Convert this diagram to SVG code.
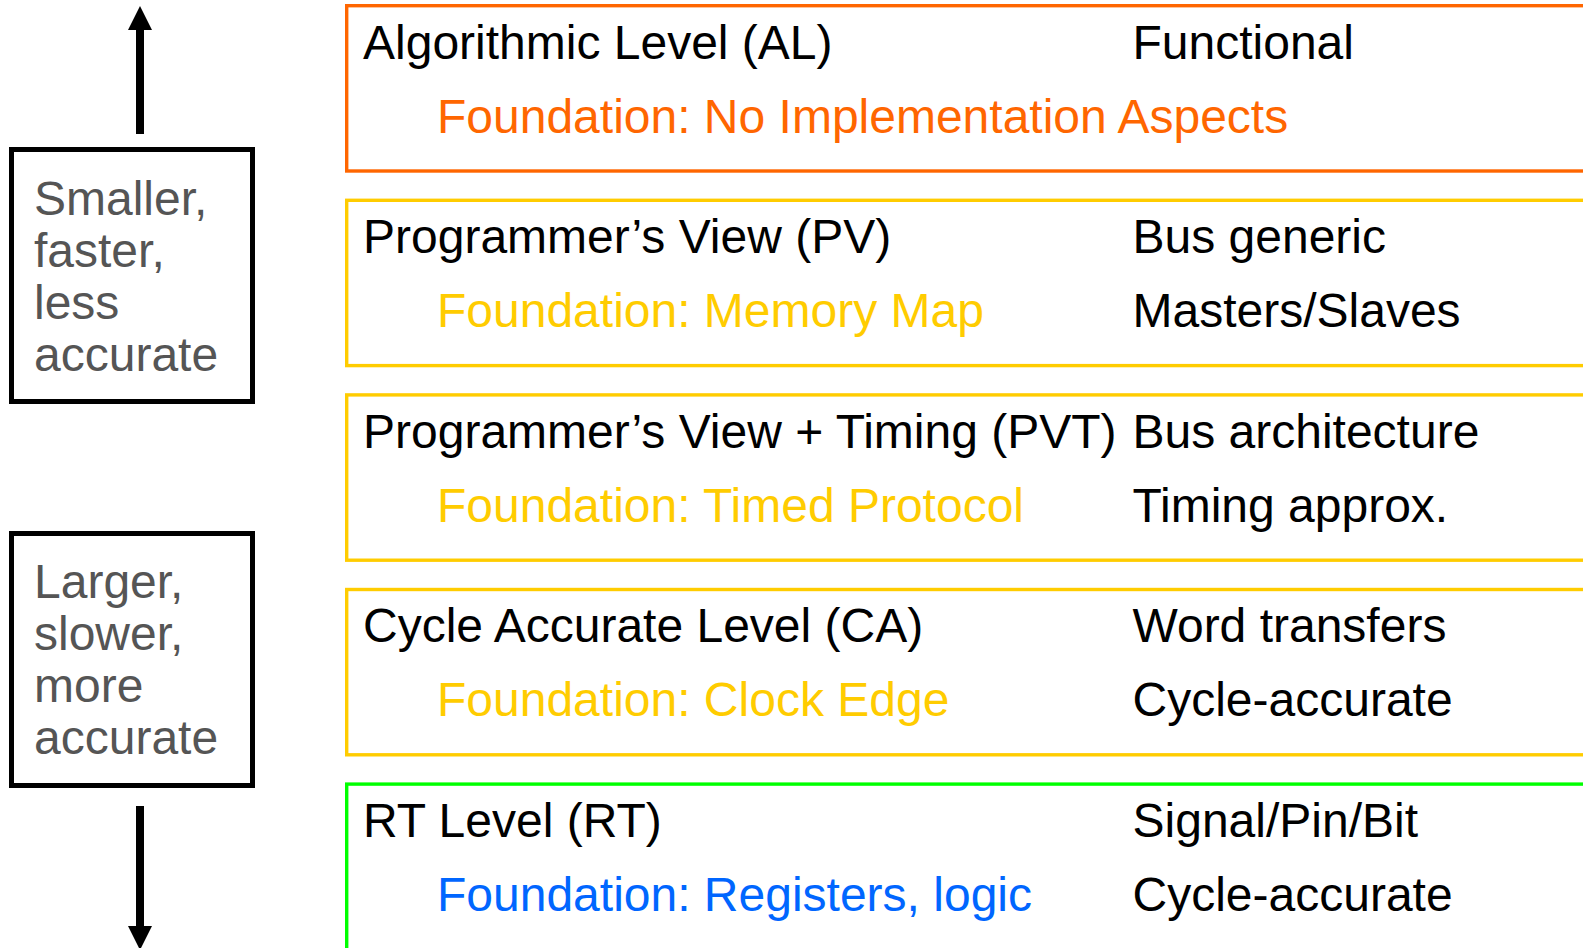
<svg xmlns="http://www.w3.org/2000/svg" width="1583" height="948" viewBox="0 0 1583 948">
  <style>
    text { font-family: "Liberation Sans", Arial, sans-serif; font-size: 48px; }
    .main { fill: #000000; }
    .side { fill: #555555; }
    .level { fill: none; stroke-width: 3.4; }
    .note { fill: #ffffff; stroke: #000000; stroke-width: 5; }
    .al { stroke: #FF6600; }
    .mid { stroke: #FFCC00; }
    .rt { stroke: #00FF00; }
    .f-al { fill: #FF6600; }
    .f-mid { fill: #FFCC00; }
    .f-rt { fill: #0066FF; }
    .shaft { stroke: #000000; stroke-width: 8; }
  </style>
  <defs>
    <marker id="head" viewBox="0 0 24 24" refX="0" refY="12" markerWidth="24" markerHeight="24" markerUnits="userSpaceOnUse" orient="auto">
      <path d="M0,0 L24,12 L0,24 Z" fill="#000000"/>
    </marker>
  </defs>

  <!-- direction arrows beside the side notes -->
  <g id="connectors">
    <line class="shaft" x1="140" y1="134" x2="140" y2="30" marker-end="url(#head)"/>
    <line class="shaft" x1="140" y1="806" x2="140" y2="926" marker-end="url(#head)"/>
  </g>

  <!-- side notes -->
  <g id="note-upper">
    <rect class="note" x="11.5" y="149.5" width="241" height="252"/>
    <text class="side" x="34" y="214.5">Smaller,</text>
    <text class="side" x="34" y="266.5">faster,</text>
    <text class="side" x="34" y="318.5">less</text>
    <text class="side" x="34" y="370.5">accurate</text>
  </g>
  <g id="note-lower">
    <rect class="note" x="11.5" y="533.5" width="241" height="252"/>
    <text class="side" x="34" y="597.5">Larger,</text>
    <text class="side" x="34" y="649.5">slower,</text>
    <text class="side" x="34" y="701.5">more</text>
    <text class="side" x="34" y="753.5">accurate</text>
  </g>

  <!-- abstraction levels -->
  <g id="level-al">
    <rect class="level al" x="346.7" y="5.7" width="1300" height="165.3"/>
    <text class="main" x="363" y="58.5">Algorithmic Level (AL)</text>
    <text class="main" x="1132.5" y="58.5">Functional</text>
    <text class="f-al" x="437" y="132.5">Foundation: No Implementation Aspects</text>
  </g>
  <g id="level-pv">
    <rect class="level mid" x="346.7" y="200.3" width="1300" height="165.3"/>
    <text class="main" x="363" y="253">Programmer’s View (PV)</text>
    <text class="main" x="1132.5" y="253">Bus generic</text>
    <text class="f-mid" x="437" y="327">Foundation: Memory Map</text>
    <text class="main" x="1132.5" y="327">Masters/Slaves</text>
  </g>
  <g id="level-pvt">
    <rect class="level mid" x="346.7" y="394.9" width="1300" height="165.3"/>
    <text class="main" x="363" y="447.7">Programmer’s View + Timing (PVT)</text>
    <text class="main" x="1132.5" y="447.7">Bus architecture</text>
    <text class="f-mid" x="437" y="521.7">Foundation: Timed Protocol</text>
    <text class="main" x="1132.5" y="521.7">Timing approx.</text>
  </g>
  <g id="level-ca">
    <rect class="level mid" x="346.7" y="589.5" width="1300" height="165.3"/>
    <text class="main" x="363" y="642.3">Cycle Accurate Level (CA)</text>
    <text class="main" x="1132.5" y="642.3">Word transfers</text>
    <text class="f-mid" x="437" y="716.3">Foundation: Clock Edge</text>
    <text class="main" x="1132.5" y="716.3">Cycle-accurate</text>
  </g>
  <g id="level-rt">
    <rect class="level rt" x="346.7" y="784.1" width="1300" height="200"/>
    <text class="main" x="363" y="836.9">RT Level (RT)</text>
    <text class="main" x="1132.5" y="836.9">Signal/Pin/Bit</text>
    <text class="f-rt" x="437" y="910.9">Foundation: Registers, logic</text>
    <text class="main" x="1132.5" y="910.9">Cycle-accurate</text>
  </g>
</svg>
